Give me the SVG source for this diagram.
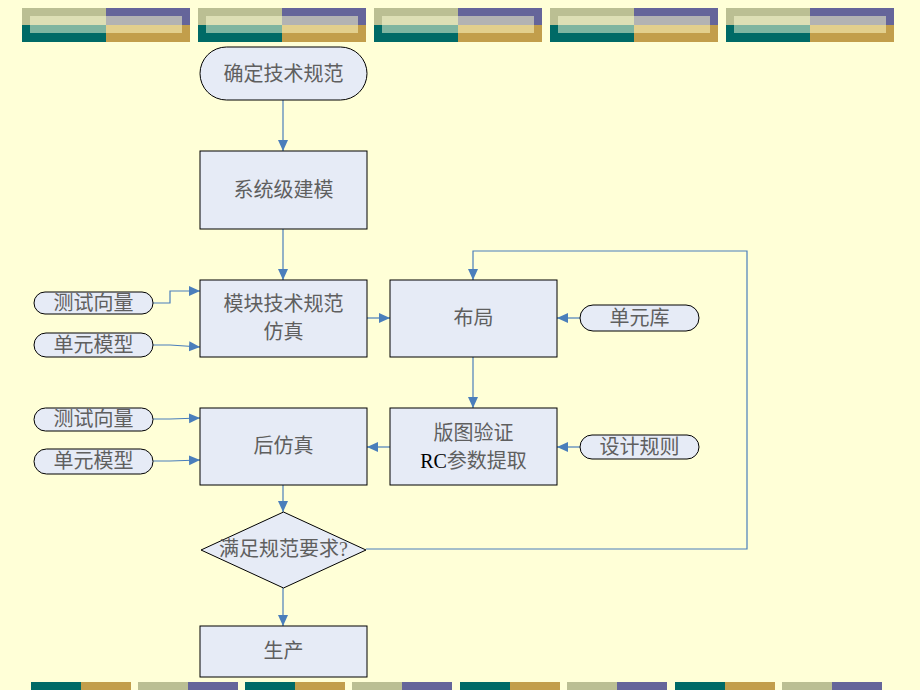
<svg xmlns="http://www.w3.org/2000/svg" width="920" height="690" viewBox="0 0 920 690">
<defs>
<style>
.bg{fill:#FFFFD7}
.node{fill:#E6EBF6;stroke:#000;stroke-width:1}
.t{font-family:"Liberation Serif","Noto Sans CJK SC",serif;font-size:20px;fill:#5F5F5F;text-anchor:middle;dominant-baseline:central}
.rc{fill:#000}
.c{fill:none;stroke:#4A7EBB;stroke-width:1.2}
</style>
<marker id="ah" markerUnits="userSpaceOnUse" markerWidth="12" markerHeight="12" viewBox="0 0 12 12" refX="11" refY="6" orient="auto">
<path d="M0,1 L11,6 L0,11 Z" fill="#4A7EBB"/>
</marker>
<g id="banner">
<rect x="0" y="0" width="84" height="17" fill="#BBBF93"/>
<rect x="0" y="17" width="84" height="17" fill="#006A66"/>
<rect x="84" y="0" width="84" height="17" fill="#65659A"/>
<rect x="84" y="17" width="84" height="17" fill="#C29E4B"/>
<rect x="8" y="8" width="76" height="9" fill="#DDDFB5"/>
<rect x="8" y="17" width="76" height="8" fill="#7FB5A0"/>
<rect x="84" y="8" width="76" height="9" fill="#B3B3B3"/>
<rect x="84" y="17" width="76" height="8" fill="#E2CF8D"/>
</g>
<g id="foot">
<rect x="0" y="0" width="50" height="8" fill="#006A66"/>
<rect x="50" y="0" width="50" height="8" fill="#C29E4B"/>
<rect x="107" y="0" width="50" height="8" fill="#BBBF93"/>
<rect x="157" y="0" width="50" height="8" fill="#65659A"/>
</g>
</defs>
<rect class="bg" x="0" y="0" width="920" height="690"/>
<g id="top-banner">
<use href="#banner" x="22" y="8"/>
<use href="#banner" x="198" y="8"/>
<use href="#banner" x="374" y="8"/>
<use href="#banner" x="550" y="8"/>
<use href="#banner" x="726" y="8"/>
</g>
<g id="bottom-banner">
<use href="#foot" x="31" y="682"/>
<use href="#foot" x="245" y="682"/>
<use href="#foot" x="460" y="682"/>
<use href="#foot" x="675" y="682"/>
</g>
<g id="connectors">
<path class="c" d="M283,100 V151" marker-end="url(#ah)"/>
<path class="c" d="M283,229 V280" marker-end="url(#ah)"/>
<path class="c" d="M153,303 H170 V291 H200" marker-end="url(#ah)"/>
<path class="c" d="M153,345 H170 L200,347" marker-end="url(#ah)"/>
<path class="c" d="M367,318 H390" marker-end="url(#ah)"/>
<path class="c" d="M580,318 H557" marker-end="url(#ah)"/>
<path class="c" d="M473,357 V408" marker-end="url(#ah)"/>
<path class="c" d="M580,447 H557" marker-end="url(#ah)"/>
<path class="c" d="M390,447 H367" marker-end="url(#ah)"/>
<path class="c" d="M153,419 H170 L200,418" marker-end="url(#ah)"/>
<path class="c" d="M153,461 H170 L200,460" marker-end="url(#ah)"/>
<path class="c" d="M283,485 V512" marker-end="url(#ah)"/>
<path class="c" d="M283,588 V626" marker-end="url(#ah)"/>
<path class="c" d="M366,549 H747 V251 H473 V280" marker-end="url(#ah)"/>
</g>
<g id="n-spec">
<rect class="node" x="200" y="47" width="167" height="53" rx="26.5" ry="26.5"/>
<text class="t" x="283.5" y="74">确定技术规范</text>
</g>
<g id="n-sys">
<rect class="node" x="200" y="151" width="167" height="78"/>
<text class="t" x="283.5" y="190">系统级建模</text>
</g>
<g id="n-mod">
<rect class="node" x="200" y="280" width="167" height="77"/>
<text class="t" x="283.5" y="304">模块技术规范</text>
<text class="t" x="283.5" y="332">仿真</text>
</g>
<g id="n-tv1">
<rect class="node" x="34" y="292" width="119" height="22" rx="11" ry="11"/>
<text class="t" x="93.5" y="303">测试向量</text>
</g>
<g id="n-cm1">
<rect class="node" x="34" y="333" width="119" height="24" rx="12" ry="12"/>
<text class="t" x="93.5" y="345">单元模型</text>
</g>
<g id="n-layout">
<rect class="node" x="390" y="280" width="167" height="77"/>
<text class="t" x="473.5" y="318">布局</text>
</g>
<g id="n-lib">
<rect class="node" x="580" y="305" width="119" height="26" rx="13" ry="13"/>
<text class="t" x="639.5" y="318">单元库</text>
</g>
<g id="n-verify">
<rect class="node" x="390" y="408" width="167" height="77"/>
<text class="t" x="473.5" y="433">版图验证</text>
<text class="t" x="473.5" y="461"><tspan class="rc">RC</tspan>参数提取</text>
</g>
<g id="n-rule">
<rect class="node" x="580" y="435" width="119" height="24" rx="12" ry="12"/>
<text class="t" x="639.5" y="447">设计规则</text>
</g>
<g id="n-post">
<rect class="node" x="200" y="408" width="167" height="77"/>
<text class="t" x="283.5" y="446">后仿真</text>
</g>
<g id="n-tv2">
<rect class="node" x="34" y="408" width="119" height="23" rx="11.5" ry="11.5"/>
<text class="t" x="93.5" y="419">测试向量</text>
</g>
<g id="n-cm2">
<rect class="node" x="34" y="449" width="119" height="25" rx="12.5" ry="12.5"/>
<text class="t" x="93.5" y="461">单元模型</text>
</g>
<g id="n-check">
<polygon class="node" points="283.5,512 366,550 283.5,588 201,550"/>
<text class="t" x="283.5" y="549">满足规范要求?</text>
</g>
<g id="n-prod">
<rect class="node" x="200" y="626" width="167" height="51"/>
<text class="t" x="283.5" y="651">生产</text>
</g>
</svg>
